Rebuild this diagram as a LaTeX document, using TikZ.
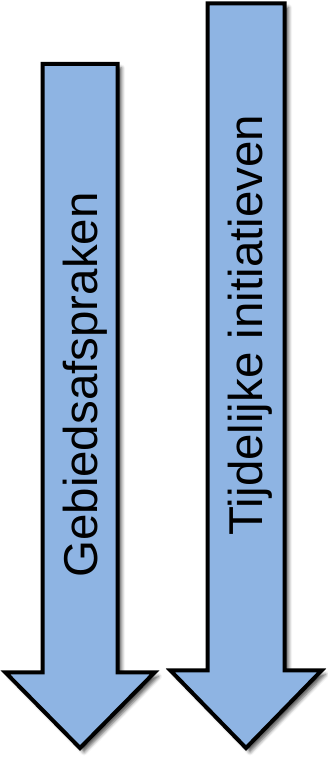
\documentclass[tikz,border=0pt]{standalone}
\usepackage{fontspec}
\setmainfont{Liberation Sans}
\usetikzlibrary{shadows.blur}
\definecolor{arrowblue}{HTML}{8EB4E3}
\tikzset{
  bigarrow/.style={fill=arrowblue, draw=black, line width=4pt, miter limit=10,
    blur shadow={shadow xshift=4pt, shadow yshift=-4pt, shadow blur radius=3.5pt, shadow opacity=65}},
  arrowtext/.style={rotate=90, anchor=base, inner sep=0pt, font=\fontsize{47.5}{50}\selectfont}
}
\begin{document}
\begin{tikzpicture}[x=1pt,y=1pt]
\useasboundingbox (0,0) rectangle (327,758);
% left arrow
\path[bigarrow] (42.5,694) -- (117.5,694) -- (117.5,85.5) -- (154.5,85.5) -- (80,10) -- (5.5,85.5) -- (42.5,85.5) -- cycle;
% right arrow
\path[bigarrow] (207.5,754.5) -- (284.5,754.5) -- (284.5,87.5) -- (321.5,87.5) -- (246,10) -- (170.5,87.5) -- (207.5,87.5) -- cycle;
\node[arrowtext] (gebied) at (97,373) {Gebiedsafspraken};
\node[arrowtext] (tijd) at (262,433) {Tijdelijke initiatieven};
\end{tikzpicture}
\end{document}
